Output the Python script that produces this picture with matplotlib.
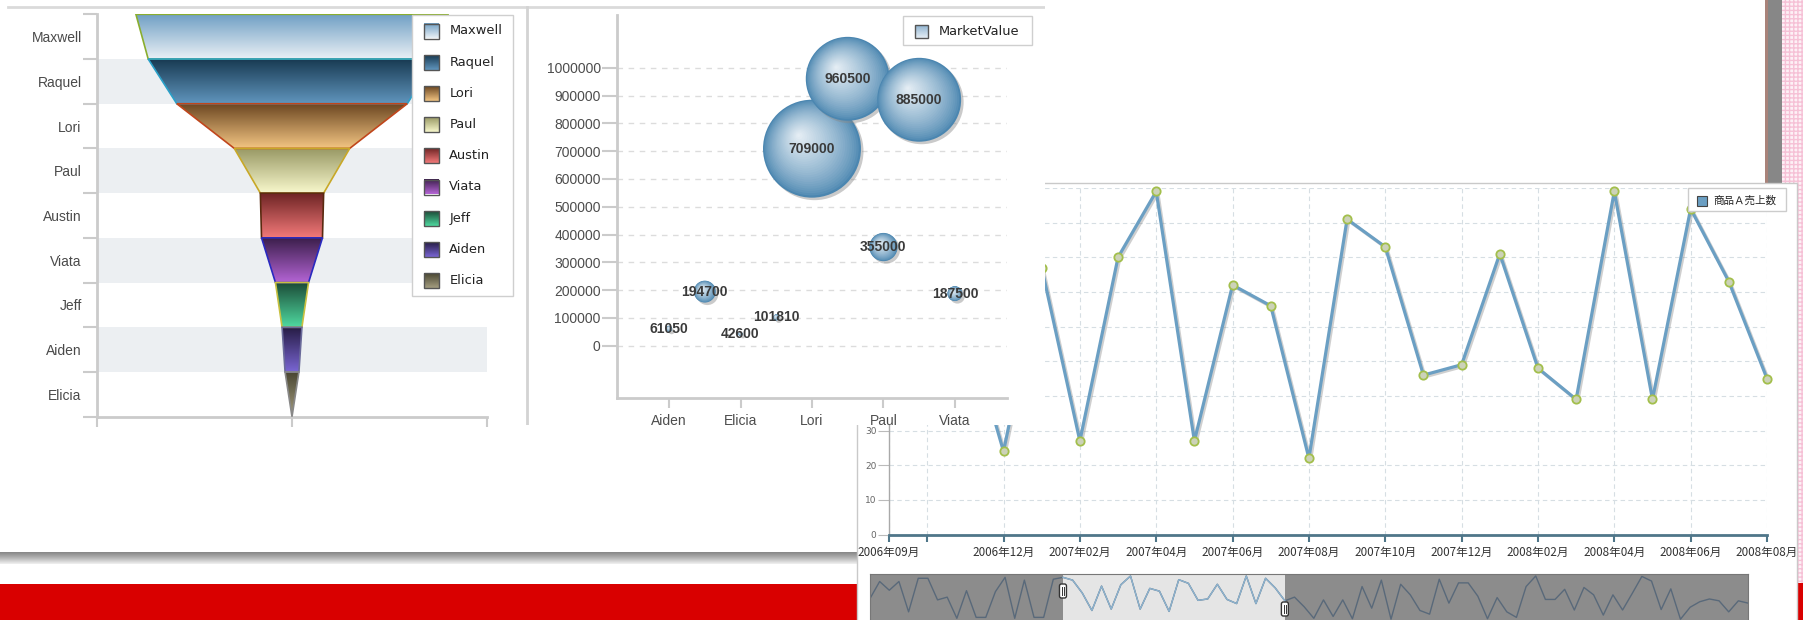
import numpy as np
import matplotlib
matplotlib.use("Agg")
import matplotlib.pyplot as plt
from matplotlib.patches import Rectangle, Polygon, Ellipse, FancyBboxPatch
from matplotlib.colors import LinearSegmentedColormap, to_rgb
import matplotlib.patheffects as pe

# ---------------- data ----------------
funnel_names = ["Maxwell", "Raquel", "Lori", "Paul", "Austin", "Viata", "Jeff", "Aiden", "Elicia"]
funnel_values = [960500, 885000, 709000, 355000, 194700, 187500, 101810, 61050, 42600]

bubble_names = ["Aiden", "Austin", "Elicia", "Jeff", "Lori", "Maxwell", "Paul", "Raquel", "Viata"]
bubble_values = [61050, 194700, 42600, 101810, 709000, 960500, 355000, 885000, 187500]
bubble_weights = [9, 120, 4, 9, 2400, 1760, 200, 1760, 56]
bubble_tick_labels = ["Aiden", "", "Elicia", "", "Lori", "", "Paul", "", "Viata"]
bubble_yticks = [0, 100000, 200000, 300000, 400000, 500000, 600000, 700000, 800000, 900000, 1000000]
bubble_legend = "MarketValue"

# monthly sales, 2005-01 .. 2012-08
sales = [
    50, 87, 68, 87, 21, 94, 94, 47, 53, 7, 67, 9,      # 2005
    9, 65, 96, 7, 90, 9, 9, 92, 96, 90, 62, 24,        # 2006
    77, 27, 80, 99, 27, 72, 66, 22, 91, 83, 46, 49,    # 2007
    81, 48, 39, 99, 39, 94, 73, 45, 53, 32, 7, 47,     # 2008
    11, 47, 6, 76, 29, 90, 5, 81, 58, 24, 16, 92,      # 2009
    40, 84, 84, 55, 6, 52, 21, 9, 76, 99, 48, 48,      # 2010
    70, 25, 74, 58, 14, 58, 25, 61, 98, 88, 26, 71,    # 2011
    5, 31, 43, 49, 45, 21, 45, 40,                     # 2012
]
window_first = 20   # 2006年09月
window_last = 43    # 2008年08月
line_tick_index = [20, 21, 23, 25, 27, 29, 31, 33, 35, 37, 39, 41, 43]
line_tick_labels = ["2006年09月", "", "2006年12月", "2007年02月", "2007年04月", "2007年06月",
                    "2007年08月", "2007年10月", "2007年12月", "2008年02月", "2008年04月",
                    "2008年06月", "2008年08月"]
line_yticks = [0, 10, 20, 30, 40, 50, 60, 70, 80, 90, 100]
line_legend = "商品Ａ売上数"

# ---------------- styles ----------------
funnel_colors = [  # (top, bottom, edge)
    ("#6f9fc4", "#eaf0f5", "#8aae2e"),
    ("#183a52", "#6196be", "#2aa0c8"),
    ("#6a4520", "#f2c482", "#c0461c"),
    ("#989864", "#f8f8cc", "#c8a828"),
    ("#6e2424", "#f37a7a", "#5a2a10"),
    ("#3c1f4c", "#b565d6", "#2a2ac0"),
    ("#1b4a36", "#4fd9a0", "#c8c040"),
    ("#261c44", "#7a66d4", "#6a6a9a"),
    ("#4a4632", "#a49e80", "#888888"),
]
SANS = "Liberation Sans"
CJK = ["Noto Sans CJK JP", "DejaVu Sans"]

W, H = 1803, 620
fig = plt.figure(figsize=(W / 100, H / 100), dpi=100)


def pos(x0, y0, x1, y1):
    return [x0 / W, 1 - y1 / H, (x1 - x0) / W, (y1 - y0) / H]


def pixel_axes(x0, y0, x1, y1, z):
    ax = fig.add_axes(pos(x0, y0, x1, y1), zorder=z)
    ax.set_xlim(x0, x1)
    ax.set_ylim(y1, y0)
    ax.axis("off")
    return ax


grad = np.linspace(0, 1, 256).reshape(-1, 1)

# ---------------- background ----------------
bg = pixel_axes(0, 0, W, H, 0)
bg.add_patch(Rectangle((0, 0), W, H, fc="white", ec="none"))
shadow_cm = LinearSegmentedColormap.from_list("sh", ["#858585", "#b5b5b5", "#f2f2f2"])
bg.imshow(grad, extent=(0, 857, 564, 552), cmap=shadow_cm, aspect="auto", zorder=1,
          interpolation="bilinear")
bg.add_patch(Rectangle((0, 584), 857, 40, fc="#d90000", ec="none", zorder=1))
bg.add_patch(Rectangle((1782, 0), 30, H, fc="#fdf1f6", ec="#f6c1d6", hatch="++++", lw=0, zorder=1))
bg.add_patch(Rectangle((1765, 0), 3, 183, fc="#a9837a", ec="none", zorder=1))
bg.add_patch(Rectangle((1768, 0), 14, 183, fc="#878787", ec="none", zorder=1))
bg.add_patch(Rectangle((1798, 583), 10, 40, fc="#d90000", ec="none", zorder=1))
bg.add_patch(Rectangle((857, 183), 940, 460, fc="white", ec="#c9c9c9", lw=1, zorder=2))
bg.set_xlim(0, W)
bg.set_ylim(H, 0)

# ---------------- line chart ----------------
axl = fig.add_axes(pos(889, 188, 1767, 534.5), zorder=1)
axl.patch.set_visible(False)
xs = np.arange(window_first, window_last + 1)
ys = sales[window_first:window_last + 1]
axl.plot(xs, ys, color="#6b9fc3", lw=2.3, zorder=3, clip_on=False,
         path_effects=[pe.SimpleLineShadow(offset=(1.2, -1.2), shadow_color="#777", alpha=0.35),
                       pe.Normal()])
axl.plot(xs, ys, ls="none", marker="o", ms=6, mfc="#ccd2b8", mec="#a3bf4c", mew=1.3,
         zorder=4, clip_on=False)
axl.set_xlim(window_first, window_last)
axl.set_ylim(0, 100)
axl.set_xticks(line_tick_index)
axl.set_xticklabels(line_tick_labels, fontfamily=CJK, fontsize=8.4, color="#333333")
axl.set_yticks(line_yticks)
axl.set_yticklabels([str(v) for v in line_yticks], fontsize=6.5, color="#666666")
axl.grid(True, ls=(0, (4, 3)), color="#d6dee3", lw=0.8)
for s in ["top", "right"]:
    axl.spines[s].set_visible(False)
axl.spines["left"].set_color("#a9a9a9")
axl.spines["left"].set_linewidth(1)
axl.spines["bottom"].set_color("#4f7689")
axl.spines["bottom"].set_linewidth(2)
axl.tick_params(axis="x", length=5, width=1.5, color="#4f7689", pad=3)
axl.tick_params(axis="y", length=8, width=0.8, color="#bbbbbb", pad=1)

# ---------------- slider ----------------
N = len(sales)
axs = fig.add_axes(pos(870, 574, 1748, 640), zorder=1)
axs.set_xlim(0, N - 1)
axs.set_ylim(-40.2, 103.3)
axs.set_facecolor("#8c8c8c")
axs.axvspan(window_first, window_last, color="#e5e5e5", zorder=0, lw=0)
allx = np.arange(N)
axs.plot(allx, sales, color="#59697a", lw=1)
axs.plot(allx[window_first:window_last + 1], sales[window_first:window_last + 1],
         color="#8db3cf", lw=1)
axs.set_xticks([])
axs.set_yticks([])
for s in axs.spines.values():
    s.set_color("#777777")

# ---------------- cover (left card upper part) ----------------
cov = pixel_axes(0, 0, 1045, 425, 2)
cov.add_patch(Rectangle((0, 0), 1045, 425, fc="white", ec="none"))
cov.plot([8, 1045], [7, 7], color="#dadada", lw=2)
cov.plot([526.7, 526.7], [7, 425], color="#d3d3d3", lw=2)

# ---------------- funnel ----------------
n = len(funnel_names)
axf = fig.add_axes(pos(97, 14.3, 487, 416.7), zorder=3)
axf.patch.set_visible(False)
for i in range(1, n, 2):
    axf.axhspan(i, i + 1, color="#eceff2", zorder=0, lw=0)
for i, v in enumerate(funnel_values):
    top = v / 2
    bot = funnel_values[i + 1] / 2 if i + 1 < n else 0
    ctop, cbot, cedge = funnel_colors[i]
    poly = Polygon([(-top, i), (top, i), (bot, i + 1), (-bot, i + 1)], closed=True,
                   fc="none", ec=cedge, lw=1.2, zorder=3)
    axf.add_patch(poly)
    cmap = LinearSegmentedColormap.from_list("f%d" % i, [ctop, cbot])
    im = axf.imshow(grad, extent=(-top, top, i + 1, i), cmap=cmap, aspect="auto",
                    zorder=2, interpolation="bilinear")
    im.set_clip_path(poly)
axf.set_xlim(-600000, 600000)
axf.set_ylim(n, 0)
axf.set_yticks(np.arange(n) + 0.5)
axf.set_yticklabels(funnel_names, fontfamily=SANS, fontsize=10, color="#4a4a4a")
axf.set_yticks(np.arange(n + 1), minor=True)
axf.tick_params(axis="y", which="major", length=0, pad=11)
axf.tick_params(axis="y", which="minor", length=10, width=1.5, color="#cbcbcb")
axf.set_xticks([-600000, 0, 600000])
axf.set_xticklabels([])
axf.tick_params(axis="x", length=7.5, width=1.5, color="#cbcbcb")
for s in ["top", "right"]:
    axf.spines[s].set_visible(False)
for s in ["left", "bottom"]:
    axf.spines[s].set_color("#cbcbcb")
    axf.spines[s].set_linewidth(2)

# ---------------- bubble ----------------
nb = len(bubble_names)
bx0, by0, bx1, by1 = 617.3, 15, 1006.7, 397.7
axb = fig.add_axes(pos(bx0, by0, bx1, by1), zorder=3)
axb.patch.set_visible(False)
xlo, xhi = -1.45, nb - 1 + 1.45
ylo, yhi = -187000, 1190000
axb.set_xlim(xlo, xhi)
axb.set_ylim(ylo, yhi)
px_x = (bx1 - bx0) / (xhi - xlo)
px_y = (by1 - by0) / (yhi - ylo)
axb.yaxis.grid(True, ls=(0, (4, 4)), color="#dcdcdc", lw=1)
axb.set_axisbelow(True)
edge_c = np.array(to_rgb("#4b86b0"))
light_c = np.array(to_rgb("#e8f0f6"))
for j, (v, w) in enumerate(zip(bubble_values, bubble_weights)):
    r = np.sqrt(w)
    rx, ry = r / px_x, r / px_y
    axb.add_patch(Ellipse((j + 2.5 / px_x, v - 2.5 / px_y), 2 * rx, 2 * ry,
                          fc="#8a8a8a", alpha=0.45, lw=0, zorder=2))
    L = 28
    for k in range(L):
        t = k / L
        col = edge_c + (light_c - edge_c) * (t ** 0.75)
        cx = j - 0.28 * rx * t
        cy = v + 0.28 * ry * t
        axb.add_patch(Ellipse((cx, cy), 2 * rx * (1 - t), 2 * ry * (1 - t),
                              fc=col, lw=0, zorder=2))
    axb.text(j, v, str(v), ha="center", va="center", fontfamily=SANS, fontweight="bold",
             fontsize=10, color="#3a3a3a", zorder=5)
axb.set_yticks(bubble_yticks)
axb.set_yticklabels([str(v) for v in bubble_yticks], fontfamily=SANS, fontsize=10,
                    color="#4d4d4d")
tick_pos = [i for i, l in enumerate(bubble_tick_labels) if l]
axb.set_xticks(tick_pos)
axb.set_xticklabels([bubble_tick_labels[i] for i in tick_pos], fontfamily=SANS, fontsize=10,
                    color="#4d4d4d")
axb.tick_params(axis="y", length=11, width=1.5, color="#cbcbcb", pad=1)
axb.tick_params(axis="x", length=7, width=1.5, color="#cbcbcb", pad=5)
for s in ["top", "right"]:
    axb.spines[s].set_visible(False)
for s in ["left", "bottom"]:
    axb.spines[s].set_color("#cbcbcb")
    axb.spines[s].set_linewidth(2)

# ---------------- overlay: legends and slider handles ----------------
ov = pixel_axes(0, 0, W, H, 4)

# funnel legend
ov.add_patch(Rectangle((412.3, 15), 100.4, 280.7, fc="white", ec="#cfcfcf", lw=1))
for k, name in enumerate(funnel_names):
    yc = 31 + k * 31.2
    ctop, cbot, _ = funnel_colors[k]
    cm = LinearSegmentedColormap.from_list("l%d" % k, [ctop, cbot])
    ov.imshow(grad[60:], extent=(424, 439, yc + 7.5, yc - 7.5), cmap=cm, aspect="auto",
              zorder=5, interpolation="bilinear")
    ov.add_patch(Rectangle((424, yc - 7.5), 15, 15, fc="none", ec="#555555", lw=1, zorder=6))
    ov.text(449.3, yc, name, fontsize=9.4, color="#222222", va="center", ha="left",
            fontfamily="DejaVu Sans", zorder=6)

# bubble legend
ov.add_patch(Rectangle((902.7, 15.7), 129.6, 29.3, fc="white", ec="#cfcfcf", lw=1))
cmb = LinearSegmentedColormap.from_list("bl", ["#8fb3d0", "#e6eef5"])
ov.imshow(grad, extent=(915, 928, 38, 25), cmap=cmb, aspect="auto", zorder=5,
          interpolation="bilinear")
ov.add_patch(Rectangle((915, 25), 13, 13, fc="none", ec="#555555", lw=1, zorder=6))
ov.text(938.3, 31.5, bubble_legend, fontsize=9.4, color="#222222", va="center", ha="left",
        fontfamily="DejaVu Sans", zorder=6)

# line legend
ov.add_patch(Rectangle((1688, 188), 98, 23, fc="white", ec="#cccccc", lw=1, zorder=5))
ov.add_patch(Rectangle((1697, 196), 10, 10, fc="#6b9fc3", ec="#444444", lw=0.8, zorder=6))
ov.text(1713, 201, line_legend, fontsize=7.6, color="#222222", va="center", ha="left",
        fontfamily=CJK, zorder=6)

# slider handles
sx0, sx1 = 870, 1748
for idx, hy in ((window_first, 591), (window_last, 609)):
    hx = sx0 + idx / (N - 1) * (sx1 - sx0)
    ov.add_patch(FancyBboxPatch((hx - 3.5, hy - 7), 7, 14,
                                boxstyle="round,pad=0,rounding_size=2",
                                fc="white", ec="#333333", lw=1, zorder=6))
    ov.plot([hx - 1, hx - 1], [hy - 4, hy + 4], color="#333333", lw=0.7, zorder=7)
    ov.plot([hx + 1, hx + 1], [hy - 4, hy + 4], color="#333333", lw=0.7, zorder=7)

ov.set_xlim(0, W)
ov.set_ylim(H, 0)

fig.savefig("out.png", dpi=100)
